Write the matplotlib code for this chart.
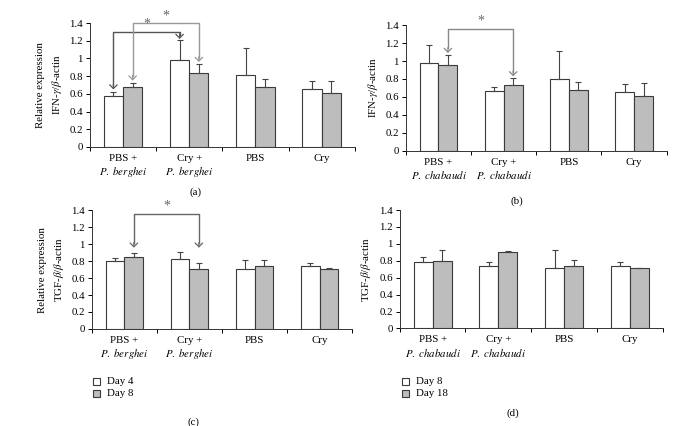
import numpy as np
import matplotlib.pyplot as plt
from matplotlib.patches import Rectangle

plt.rcParams['font.family'] = ['Liberation Serif', 'DejaVu Serif']
plt.rcParams['mathtext.fontset'] = 'stix'
plt.rcParams['font.size'] = 7.8

# category labels
cats_berghei = ['PBS +\n$\\mathit{P.\\ berghei}$', 'Cry +\n$\\mathit{P.\\ berghei}$', 'PBS', 'Cry']
cats_chabaudi = ['PBS +\n$\\mathit{P.\\ chabaudi}$', 'Cry +\n$\\mathit{P.\\ chabaudi}$', 'PBS', 'Cry']

# (a) IFN-gamma, P. berghei (Day 4 / Day 8)
a_white = [0.57, 0.98, 0.81, 0.65]
a_white_err = [0.055, 0.225, 0.31, 0.095]
a_gray = [0.675, 0.83, 0.675, 0.605]
a_gray_err = [0.045, 0.105, 0.09, 0.145]

# (b) IFN-gamma, P. chabaudi (Day 8 / Day 18)
b_white = [0.975, 0.67, 0.805, 0.655]
b_white_err = [0.2, 0.037, 0.31, 0.085]
b_gray = [0.955, 0.737, 0.678, 0.607]
b_gray_err = [0.11, 0.075, 0.09, 0.145]

# (c) TGF-beta, P. berghei
c_white = [0.805, 0.83, 0.71, 0.74]
c_white_err = [0.03, 0.078, 0.102, 0.043]
c_gray = [0.852, 0.71, 0.74, 0.71]
c_gray_err = [0.04, 0.063, 0.075, 0.006]

# (d) TGF-beta, P. chabaudi
d_white = [0.783, 0.74, 0.709, 0.744]
d_white_err = [0.056, 0.043, 0.216, 0.039]
d_gray = [0.803, 0.898, 0.744, 0.713]
d_gray_err = [0.13, 0.019, 0.071, 0.0]

legend_c = ['Day 4', 'Day 8']
legend_d = ['Day 8', 'Day 18']

W = 0.29
EDGE = '#3a3a3a'
GRAY = '#bdbdbd'


def draw_panel(ax, cats, white, werr, gray, gerr, ylabel):
    x = np.arange(len(cats))
    ekw = dict(ecolor='#444444', elinewidth=0.8, capsize=2.2, capthick=0.8)
    ax.bar(x - W / 2, white, W, color='white', edgecolor=EDGE, linewidth=0.8,
           yerr=[np.zeros(len(werr)), werr], error_kw=ekw)
    ax.bar(x + W / 2, gray, W, color=GRAY, edgecolor=EDGE, linewidth=0.8,
           yerr=[np.zeros(len(gerr)), gerr], error_kw=ekw)
    ax.set_xlim(-0.5, len(cats) - 0.5)
    ax.set_ylim(0, 1.4)
    ax.set_yticks(np.arange(0, 1.41, 0.2))
    ax.set_yticklabels(['0', '0.2', '0.4', '0.6', '0.8', '1', '1.2', '1.4'])
    ax.set_xticks(x)
    ax.set_xticklabels(cats, linespacing=1.25)
    ax.set_xticks(np.arange(-0.5, len(cats), 1.0), minor=True)
    ax.tick_params(axis='x', which='major', length=0, pad=5)
    ax.tick_params(axis='x', which='minor', length=3, width=0.7, direction='out')
    ax.tick_params(axis='y', length=3, width=0.7, direction='out', pad=2)
    for s in ['top', 'right']:
        ax.spines[s].set_visible(False)
    for s in ['left', 'bottom']:
        ax.spines[s].set_linewidth(0.7)
        ax.spines[s].set_color('#333333')
    ax.set_ylabel(ylabel, linespacing=1.5, labelpad=4)


def bracket(ax, x1, y1, x2, y2, top, color):
    ax.plot([x1, x1, x2, x2], [y1 + 0.05, top, top, y2 + 0.05], color=color, lw=1.0, clip_on=False)
    for xx, yy in [(x1, y1), (x2, y2)]:
        ax.annotate('', xy=(xx, yy), xytext=(xx, yy + 0.06),
                    arrowprops=dict(arrowstyle='->, head_width=0.45, head_length=0.45', color=color, lw=0.9,
                                    shrinkA=0, shrinkB=0, mutation_scale=6),
                    annotation_clip=False)
    ax.text((x1 + x2) / 2, top + 0.01, '*', ha='center', va='bottom',
            fontsize=10, color='#666666', clip_on=False)


fig = plt.figure(figsize=(6.81, 4.26), dpi=100)

ax_a = fig.add_axes([0.132, 0.655, 0.389, 0.291])
ax_b = fig.add_axes([0.596, 0.646, 0.383, 0.295])
ax_c = fig.add_axes([0.135, 0.228, 0.382, 0.278])
ax_d = fig.add_axes([0.587, 0.229, 0.386, 0.278])

draw_panel(ax_a, cats_berghei, a_white, a_white_err, a_gray, a_gray_err,
           'Relative expression\nIFN-$\\gamma$/$\\beta$-actin')
draw_panel(ax_b, cats_chabaudi, b_white, b_white_err, b_gray, b_gray_err,
           'IFN-$\\gamma$/$\\beta$-actin')
draw_panel(ax_c, cats_berghei, c_white, c_white_err, c_gray, c_gray_err,
           'Relative expression\nTGF-$\\beta$/$\\beta$-actin')
draw_panel(ax_d, cats_chabaudi, d_white, d_white_err, d_gray, d_gray_err,
           'TGF-$\\beta$/$\\beta$-actin')

# significance brackets
bracket(ax_a, -W / 2, 0.65, 1 - W / 2, 1.22, 1.30, '#555555')
bracket(ax_a, W / 2, 0.75, 1 + W / 2, 0.96, 1.40, '#999999')
bracket(ax_b, W / 2, 1.09, 1 + W / 2, 0.83, 1.36, '#888888')
bracket(ax_c, W / 2, 0.96, 1 + W / 2, 0.96, 1.36, '#666666')

# legends (small squares under panels c and d)
for labels, lx in [(legend_c, 93), (legend_d, 402)]:
    for i, (lab, fc) in enumerate(zip(labels, ['white', GRAY])):
        yc = 381 + i * 12.5
        fig.patches.append(Rectangle((lx / 681, 1 - (yc + 3.5) / 426), 7 / 681, 7 / 426,
                                     facecolor=fc, edgecolor=EDGE, linewidth=0.8,
                                     transform=fig.transFigure))
        fig.text((lx + 14) / 681, 1 - yc / 426, lab, ha='left', va='center')

# panel labels
fig.text(195 / 681, 1 - 192 / 426, '(a)', ha='center', va='center')
fig.text(517 / 681, 1 - 201 / 426, '(b)', ha='center', va='center')
fig.text(193 / 681, 1 - 422 / 426, '(c)', ha='center', va='center')
fig.text(513 / 681, 1 - 413 / 426, '(d)', ha='center', va='center')

plt.savefig('out.png', dpi=100)
